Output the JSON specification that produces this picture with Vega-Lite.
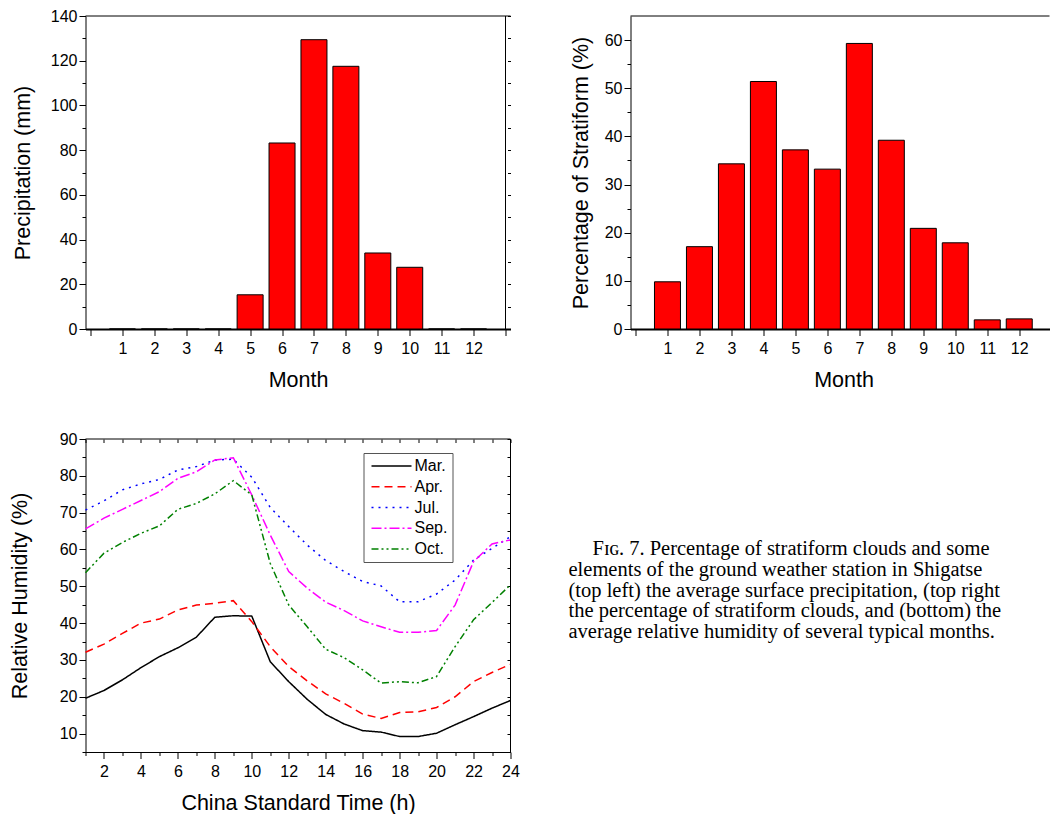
{
  "$schema": "https://vega.github.io/schema/vega-lite/v6.json",
  "background": "white",
  "padding": {"left": 9.5, "top": 8, "right": 0, "bottom": 0},
  "spacing": 40,
  "resolve": {"legend": {"color": "independent", "strokeDash": "independent"}},
  "config": {
    "font": "Liberation Sans",
    "view": {"stroke": null},
    "axis": {
      "domainColor": "#000", "tickColor": "#000", "labelColor": "#000", "titleColor": "#000",
      "labelFont": "Liberation Sans", "titleFont": "Liberation Sans",
      "labelFontSize": 16, "titleFontSize": 21.5, "titleFontWeight": "normal",
      "grid": false, "labelFlush": false, "labelOverlap": false,
      "domainWidth": 1, "tickWidth": 1
    }
  },
  "datasets": {
    "precip": [
      {"month": 1, "precipitation": 0}, {"month": 2, "precipitation": 0},
      {"month": 3, "precipitation": 0}, {"month": 4, "precipitation": 0},
      {"month": 5, "precipitation": 15.3}, {"month": 6, "precipitation": 83.2},
      {"month": 7, "precipitation": 129.4}, {"month": 8, "precipitation": 117.5},
      {"month": 9, "precipitation": 34.0}, {"month": 10, "precipitation": 27.6},
      {"month": 11, "precipitation": 0}, {"month": 12, "precipitation": 0}
    ],
    "strat": [
      {"month": 1, "pct": 9.8}, {"month": 2, "pct": 17.1}, {"month": 3, "pct": 34.3},
      {"month": 4, "pct": 51.4}, {"month": 5, "pct": 37.2}, {"month": 6, "pct": 33.2},
      {"month": 7, "pct": 59.3}, {"month": 8, "pct": 39.2}, {"month": 9, "pct": 20.9},
      {"month": 10, "pct": 17.9}, {"month": 11, "pct": 1.9}, {"month": 12, "pct": 2.1}
    ],
    "rh": [
      {"month": "Mar.", "hour": 1, "rh": 19.6}, {"month": "Mar.", "hour": 2, "rh": 21.7}, {"month": "Mar.", "hour": 3, "rh": 24.6}, {"month": "Mar.", "hour": 4, "rh": 27.9},
      {"month": "Mar.", "hour": 5, "rh": 30.9}, {"month": "Mar.", "hour": 6, "rh": 33.3}, {"month": "Mar.", "hour": 7, "rh": 36.2}, {"month": "Mar.", "hour": 8, "rh": 41.6},
      {"month": "Mar.", "hour": 9, "rh": 42.0}, {"month": "Mar.", "hour": 10, "rh": 41.9}, {"month": "Mar.", "hour": 11, "rh": 29.5}, {"month": "Mar.", "hour": 12, "rh": 24.1},
      {"month": "Mar.", "hour": 13, "rh": 19.3}, {"month": "Mar.", "hour": 14, "rh": 15.2}, {"month": "Mar.", "hour": 15, "rh": 12.6}, {"month": "Mar.", "hour": 16, "rh": 10.8},
      {"month": "Mar.", "hour": 17, "rh": 10.4}, {"month": "Mar.", "hour": 18, "rh": 9.2}, {"month": "Mar.", "hour": 19, "rh": 9.2}, {"month": "Mar.", "hour": 20, "rh": 10.1},
      {"month": "Mar.", "hour": 21, "rh": 12.4}, {"month": "Mar.", "hour": 22, "rh": 14.6}, {"month": "Mar.", "hour": 23, "rh": 16.9}, {"month": "Mar.", "hour": 24, "rh": 19.0},
      {"month": "Apr.", "hour": 1, "rh": 32.1}, {"month": "Apr.", "hour": 2, "rh": 34.3}, {"month": "Apr.", "hour": 3, "rh": 37.2}, {"month": "Apr.", "hour": 4, "rh": 40.0},
      {"month": "Apr.", "hour": 5, "rh": 41.1}, {"month": "Apr.", "hour": 6, "rh": 43.6}, {"month": "Apr.", "hour": 7, "rh": 44.9}, {"month": "Apr.", "hour": 8, "rh": 45.4},
      {"month": "Apr.", "hour": 9, "rh": 46.1}, {"month": "Apr.", "hour": 10, "rh": 40.4}, {"month": "Apr.", "hour": 11, "rh": 33.6}, {"month": "Apr.", "hour": 12, "rh": 28.2},
      {"month": "Apr.", "hour": 13, "rh": 24.3}, {"month": "Apr.", "hour": 14, "rh": 20.8}, {"month": "Apr.", "hour": 15, "rh": 18.2}, {"month": "Apr.", "hour": 16, "rh": 15.3},
      {"month": "Apr.", "hour": 17, "rh": 14.1}, {"month": "Apr.", "hour": 18, "rh": 15.7}, {"month": "Apr.", "hour": 19, "rh": 15.9}, {"month": "Apr.", "hour": 20, "rh": 17.1},
      {"month": "Apr.", "hour": 21, "rh": 20.0}, {"month": "Apr.", "hour": 22, "rh": 24.1}, {"month": "Apr.", "hour": 23, "rh": 26.6}, {"month": "Apr.", "hour": 24, "rh": 28.8},
      {"month": "Jul.", "hour": 1, "rh": 70.7}, {"month": "Jul.", "hour": 2, "rh": 73.2}, {"month": "Jul.", "hour": 3, "rh": 76.2}, {"month": "Jul.", "hour": 4, "rh": 77.8},
      {"month": "Jul.", "hour": 5, "rh": 79.0}, {"month": "Jul.", "hour": 6, "rh": 81.6}, {"month": "Jul.", "hour": 7, "rh": 82.5}, {"month": "Jul.", "hour": 8, "rh": 84.3},
      {"month": "Jul.", "hour": 9, "rh": 84.5}, {"month": "Jul.", "hour": 10, "rh": 79.6}, {"month": "Jul.", "hour": 11, "rh": 71.4}, {"month": "Jul.", "hour": 12, "rh": 66.2},
      {"month": "Jul.", "hour": 13, "rh": 61.2}, {"month": "Jul.", "hour": 14, "rh": 57.0}, {"month": "Jul.", "hour": 15, "rh": 54.0}, {"month": "Jul.", "hour": 16, "rh": 51.3},
      {"month": "Jul.", "hour": 17, "rh": 50.1}, {"month": "Jul.", "hour": 18, "rh": 45.8}, {"month": "Jul.", "hour": 19, "rh": 45.8}, {"month": "Jul.", "hour": 20, "rh": 47.9},
      {"month": "Jul.", "hour": 21, "rh": 51.7}, {"month": "Jul.", "hour": 22, "rh": 57.1}, {"month": "Jul.", "hour": 23, "rh": 60.3}, {"month": "Jul.", "hour": 24, "rh": 63.5},
      {"month": "Sep.", "hour": 1, "rh": 65.6}, {"month": "Sep.", "hour": 2, "rh": 68.5}, {"month": "Sep.", "hour": 3, "rh": 70.9}, {"month": "Sep.", "hour": 4, "rh": 73.3},
      {"month": "Sep.", "hour": 5, "rh": 75.7}, {"month": "Sep.", "hour": 6, "rh": 79.3}, {"month": "Sep.", "hour": 7, "rh": 81.1}, {"month": "Sep.", "hour": 8, "rh": 84.3},
      {"month": "Sep.", "hour": 9, "rh": 84.9}, {"month": "Sep.", "hour": 10, "rh": 74.8}, {"month": "Sep.", "hour": 11, "rh": 63.9}, {"month": "Sep.", "hour": 12, "rh": 54.0},
      {"month": "Sep.", "hour": 13, "rh": 49.5}, {"month": "Sep.", "hour": 14, "rh": 45.7}, {"month": "Sep.", "hour": 15, "rh": 43.4}, {"month": "Sep.", "hour": 16, "rh": 40.6},
      {"month": "Sep.", "hour": 17, "rh": 39.0}, {"month": "Sep.", "hour": 18, "rh": 37.5}, {"month": "Sep.", "hour": 19, "rh": 37.5}, {"month": "Sep.", "hour": 20, "rh": 38.0},
      {"month": "Sep.", "hour": 21, "rh": 44.9}, {"month": "Sep.", "hour": 22, "rh": 56.7}, {"month": "Sep.", "hour": 23, "rh": 61.5}, {"month": "Sep.", "hour": 24, "rh": 62.6},
      {"month": "Oct.", "hour": 1, "rh": 53.7}, {"month": "Oct.", "hour": 2, "rh": 59.0}, {"month": "Oct.", "hour": 3, "rh": 61.9}, {"month": "Oct.", "hour": 4, "rh": 64.4},
      {"month": "Oct.", "hour": 5, "rh": 66.4}, {"month": "Oct.", "hour": 6, "rh": 70.9}, {"month": "Oct.", "hour": 7, "rh": 72.5}, {"month": "Oct.", "hour": 8, "rh": 75.1},
      {"month": "Oct.", "hour": 9, "rh": 78.7}, {"month": "Oct.", "hour": 10, "rh": 74.8}, {"month": "Oct.", "hour": 11, "rh": 56.2}, {"month": "Oct.", "hour": 12, "rh": 44.9},
      {"month": "Oct.", "hour": 13, "rh": 39.0}, {"month": "Oct.", "hour": 14, "rh": 32.9}, {"month": "Oct.", "hour": 15, "rh": 30.6}, {"month": "Oct.", "hour": 16, "rh": 27.3},
      {"month": "Oct.", "hour": 17, "rh": 23.7}, {"month": "Oct.", "hour": 18, "rh": 24.1}, {"month": "Oct.", "hour": 19, "rh": 23.8}, {"month": "Oct.", "hour": 20, "rh": 25.5},
      {"month": "Oct.", "hour": 21, "rh": 33.6}, {"month": "Oct.", "hour": 22, "rh": 40.9}, {"month": "Oct.", "hour": 23, "rh": 45.6}, {"month": "Oct.", "hour": 24, "rh": 50.4}
    ],
    "caption": [
      {"line": 1, "text": "F\u026a\u0262. 7. Percentage of stratiform clouds and some"},
      {"line": 2, "text": "elements of the ground weather station in Shigatse"},
      {"line": 3, "text": "(top left) the average surface precipitation, (top right"},
      {"line": 4, "text": "the percentage of stratiform clouds, and (bottom) the"},
      {"line": 5, "text": "average relative humidity of several typical months."}
    ]
  },
  "vconcat": [
    {
      "bounds": "flush",
      "spacing": 120,
      "resolve": {"legend": {"color": "independent", "strokeDash": "independent"}},
      "hconcat": [
        {
          "width": 425, "height": 313,
          "layer": [
            {
              "data": {"name": "precip"},
              "mark": {"type": "bar", "orient": "vertical", "color": "#ff0000", "stroke": "#000", "strokeWidth": 1, "width": 26},
              "encoding": {
                "x": {"field": "month", "type": "quantitative", "scale": {"domain": [0, 13], "nice": false},
                      "axis": {"orient": "bottom", "title": "Month", "values": [0,1,2,3,4,5,6,7,8,9,10,11,12,13],
                               "labelExpr": "datum.value >= 1 && datum.value <= 12 ? datum.label : ''",
                               "tickSize": 6.5, "labelPadding": 5, "titlePadding": 13, "domainWidth": 2}},
                "y": {"field": "precipitation", "type": "quantitative", "scale": {"domain": [0, 140], "nice": false},
                      "axis": {"orient": "left", "title": "Precipitation (mm)", "values": [0,10,20,30,40,50,60,70,80,90,100,110,120,130,140],
                               "labelExpr": "datum.value % 20 === 0 ? datum.label : ''",
                               "tickSize": {"condition": {"test": "datum.value % 20 === 0", "value": 6.5}, "value": 3.5},
                               "labelPadding": 2, "titlePadding": 16}}
              }
            },
            {
              "data": {"values": [{}]},
              "mark": {"type": "rule", "color": "#000", "strokeWidth": 1},
              "encoding": {
                "y": {"datum": 140, "type": "quantitative",
                      "axis": {"orient": "right", "title": null, "labels": false, "domain": false, "offset": -3,
                               "values": [0,10,20,30,40,50,60,70,80,90,100,110,120,130,140], "tickSize": 3}}
              }
            },
            {
              "data": {"values": [{}]},
              "mark": {"type": "rule", "color": "#000", "strokeWidth": 1},
              "encoding": {
                "x": {"datum": 13, "type": "quantitative",
                      "axis": {"orient": "top", "title": null, "labels": false, "domain": false, "ticks": false}}
              }
            }
          ],
          "resolve": {"axis": {"x": "independent", "y": "independent"}}
        },
        {
          "width": 419, "height": 313,
          "layer": [
            {
              "data": {"name": "strat"},
              "mark": {"type": "bar", "orient": "vertical", "color": "#ff0000", "stroke": "#000", "strokeWidth": 1, "width": 26},
              "encoding": {
                "x": {"field": "month", "type": "quantitative", "scale": {"domain": [0, 12.79], "nice": false},
                      "axis": {"orient": "bottom", "title": "Month", "values": [0,1,2,3,4,5,6,7,8,9,10,11,12],
                               "labelExpr": "datum.value >= 1 && datum.value <= 12 ? datum.label : ''",
                               "tickSize": 6.5, "labelPadding": 5, "titlePadding": 13, "domainWidth": 2, "titleX": 213}},
                "y": {"field": "pct", "type": "quantitative", "scale": {"domain": [0, 65], "nice": false},
                      "axis": {"orient": "left", "title": "Percentage of Stratiform (%)", "values": [0,5,10,15,20,25,30,35,40,45,50,55,60],
                               "labelExpr": "datum.value % 10 === 0 ? datum.label : ''",
                               "tickSize": {"condition": {"test": "datum.value % 10 === 0", "value": 6.5}, "value": 3.5},
                               "labelPadding": 2, "titlePadding": 12}}
              }
            },
            {
              "data": {"values": [{}]},
              "mark": {"type": "rule", "color": "#000", "strokeWidth": 1},
              "encoding": {"y": {"datum": 65, "type": "quantitative",
                                 "axis": {"orient": "right", "title": null, "labels": false, "ticks": false, "domain": false}}}
            }
          ],
          "resolve": {"axis": {"y": "independent"}}
        }
      ]
    },
    {
      "bounds": "flush",
      "spacing": 58,
      "resolve": {"legend": {"color": "independent", "strokeDash": "independent"}},
      "hconcat": [
        {
          "width": 425, "height": 313,
          "layer": [
            {
              "data": {"name": "rh"},
              "mark": {"type": "line", "strokeWidth": 1.5},
              "encoding": {
                "x": {"field": "hour", "type": "quantitative", "scale": {"domain": [1, 24], "nice": false, "zero": false},
                      "axis": {"orient": "bottom", "title": "China Standard Time (h)", "values": [1,2,3,4,5,6,7,8,9,10,11,12,13,14,15,16,17,18,19,20,21,22,23,24],
                               "labelExpr": "datum.value % 2 === 0 ? datum.label : ''",
                               "tickSize": {"condition": {"test": "datum.value % 2 === 0", "value": 6.5}, "value": 3.5},
                               "labelPadding": 5, "titlePadding": 13}},
                "y": {"field": "rh", "type": "quantitative", "scale": {"domain": [5, 90], "nice": false, "zero": false},
                      "axis": {"orient": "left", "title": "Relative Humidity (%)", "values": [5,10,15,20,25,30,35,40,45,50,55,60,65,70,75,80,85,90],
                               "labelExpr": "datum.value % 10 === 0 ? datum.label : ''",
                               "tickSize": {"condition": {"test": "datum.value % 10 === 0", "value": 6.5}, "value": 3.5},
                               "labelPadding": 2, "titlePadding": 27.5}},
                "color": {"field": "month", "type": "nominal",
                          "scale": {"domain": ["Mar.", "Apr.", "Jul.", "Sep.", "Oct."], "range": ["#000000", "#ff0000", "#0000ff", "#ff00ff", "#008000"]},
                          "legend": {"title": null, "orient": "none", "legendX": 278, "legendY": 14, "symbolType": "M-1,0H7", "symbolSize": 100,
                                     "symbolStrokeWidth": 1.5, "labelFontSize": 16, "labelFont": "Liberation Sans", "labelColor": "#000",
                                     "strokeColor": "#555", "fillColor": "#fff", "padding": 5, "rowPadding": 4.75, "labelOffset": 30}},
                "strokeDash": {"field": "month", "type": "nominal",
                               "scale": {"domain": ["Mar.", "Apr.", "Jul.", "Sep.", "Oct."], "range": [[1, 0], [8, 5], [2, 5], [10, 3, 2, 3], [7, 3, 2, 3, 2, 3]]},
                               "legend": {"title": null, "orient": "none", "legendX": 278, "legendY": 14, "symbolType": "M-1,0H7", "symbolSize": 100,
                                          "symbolStrokeWidth": 1.5, "labelFontSize": 16, "labelFont": "Liberation Sans", "labelColor": "#000",
                                          "strokeColor": "#555", "fillColor": "#fff", "padding": 5, "rowPadding": 4.75, "labelOffset": 30}}
              }
            },
            {
              "data": {"values": [{}]},
              "mark": {"type": "rule", "color": "#000", "strokeWidth": 1},
              "encoding": {
                "y": {"datum": 90, "type": "quantitative",
                      "axis": {"orient": "right", "title": null, "labels": false, "domain": false, "offset": -3.5,
                               "values": [5,10,15,20,25,30,35,40,45,50,55,60,65,70,75,80,85,90], "tickSize": 3.5}}
              }
            },
            {
              "data": {"values": [{}]},
              "mark": {"type": "rule", "color": "#000", "strokeWidth": 1},
              "encoding": {
                "x": {"datum": 24, "type": "quantitative",
                      "axis": {"orient": "top", "title": null, "labels": false, "domain": false, "offset": -3.5,
                               "values": [1,2,3,4,5,6,7,8,9,10,11,12,13,14,15,16,17,18,19,20,21,22,23,24], "tickSize": 3.5}}
              }
            }
          ],
          "resolve": {"axis": {"x": "independent", "y": "independent"}}
        },
        {
          "width": 483, "height": 313,
          "data": {"name": "caption"},
          "layer": [
            {
              "transform": [{"filter": "datum.line === 1"}],
              "mark": {"type": "text", "align": "left", "baseline": "alphabetic", "font": "Liberation Serif", "fontSize": 20.5, "color": "#000", "clip": true, "dx": 24},
              "encoding": {
                "y": {"field": "line", "type": "quantitative", "scale": {"domain": [-4.59, 10.49], "reverse": true, "nice": false, "zero": false}, "axis": null},
                "x": {"datum": 0, "type": "quantitative", "scale": {"domain": [0, 1]}, "axis": null},
                "text": {"field": "text"}
              }
            },
            {
              "transform": [{"filter": "datum.line > 1"}],
              "mark": {"type": "text", "align": "left", "baseline": "alphabetic", "font": "Liberation Serif", "fontSize": 20.5, "color": "#000", "clip": true},
              "encoding": {
                "y": {"field": "line", "type": "quantitative", "scale": {"domain": [-4.59, 10.49], "reverse": true, "nice": false, "zero": false}, "axis": null},
                "x": {"datum": 0, "type": "quantitative", "scale": {"domain": [0, 1]}, "axis": null},
                "text": {"field": "text"}
              }
            }
          ]
        }
      ]
    }
  ]
}
